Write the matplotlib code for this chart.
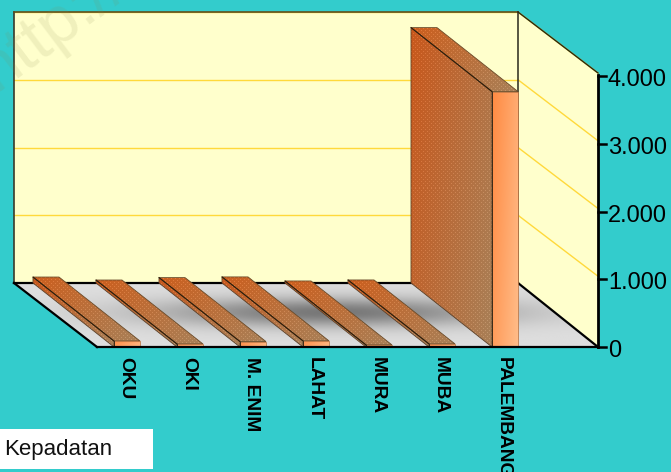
import numpy as np
import matplotlib
matplotlib.use("Agg")
import matplotlib.pyplot as plt
from matplotlib.patches import Polygon
from matplotlib.colors import LinearSegmentedColormap

plt.rcParams['font.family'] = ['Liberation Sans', 'DejaVu Sans']

categories = ["OKU", "OKI", "M. ENIM", "LAHAT", "MURA", "MUBA", "PALEMBANG"]
kepadatan = [88, 44, 80, 90, 30, 45, 3770]
y_ticks = [0, 1000, 2000, 3000, 4000]
y_tick_labels = ["0", "1.000", "2.000", "3.000", "4.000"]
legend_label = "Kepadatan"

# chart box in pixels
x_front = 97
y_front = 347
plot_w = 421
depth_x = 83
depth_y = 64
px_per_unit = 271 / 4000
slot = 63
bar_w = 26
bar_start = 17
bar_dx = 81
bar_dy = 64

bg = "#33CCCC"
wall = "#FFFFCC"
grid_col = "#FFD93B"

fig = plt.figure(figsize=(6.71, 4.72), dpi=100, facecolor=bg)
ax = fig.add_axes([0, 0, 1, 1])
ax.set_xlim(0, 671)
ax.set_ylim(472, 0)
ax.axis("off")


def val_y(v):
    return y_front - v * px_per_unit


def grad_fill(poly, c1, c2, direction="x", dots=False, z=3):
    # gradient image clipped to a polygon, optional dotted texture
    xs = [p[0] for p in poly]
    ys = [p[1] for p in poly]
    x0, x1, y0, y1 = min(xs), max(xs), min(ys), max(ys)
    nx = max(int(x1 - x0), 2)
    ny = max(int(y1 - y0), 2)
    gx, gy = np.meshgrid(np.linspace(0, 1, nx), np.linspace(0, 1, ny))
    t = gx if direction == "x" else 0.65 * gx + 0.35 * gy
    c1 = np.array(matplotlib.colors.to_rgb(c1))
    c2 = np.array(matplotlib.colors.to_rgb(c2))
    img = c1 + (c2 - c1) * t[..., None]
    if dots:
        ix, iy = np.meshgrid(np.arange(nx), np.arange(ny))
        mask = ((ix + 2 * (iy // 2 % 2)) % 4 == 0) & (iy % 2 == 0)
        img = np.clip(img + mask[..., None] * 0.09, 0, 1)
    im = ax.imshow(img, extent=(x0, x1, y1, y0), aspect="auto", zorder=z,
                   interpolation="nearest")
    patch = Polygon(poly, closed=True, transform=ax.transData, fc="none", ec="none")
    ax.add_patch(patch)
    im.set_clip_path(patch)


back_l = x_front - depth_x
back_r = x_front + plot_w
back_top = val_y(4000) - depth_y
back_bot = y_front - depth_y
side_x = back_r + 80

# back wall and side wall
ax.add_patch(Polygon([(back_l, back_top), (back_r, back_top), (back_r, back_bot), (back_l, back_bot)],
                     closed=True, fc=wall, ec="none", zorder=1))
ax.add_patch(Polygon([(back_r, back_top), (side_x, back_top + depth_y - 3), (side_x, y_front), (back_r, back_bot)],
                     closed=True, fc=wall, ec="none", zorder=1))

# watermark, faint
ax.text(-4, 92, "http://", rotation=37, rotation_mode="anchor", fontsize=48, color="#8A8A50",
        alpha=0.13, ha="left", va="baseline", zorder=2.5, clip_on=True)

# floor with shadow
floor = [(back_l, back_bot), (back_r, back_bot), (side_x, y_front), (x_front, y_front)]
fx, fy = np.meshgrid(np.linspace(0, 1, 300), np.linspace(0, 1, 120))
shade = 0.87 - 0.40 * np.exp(-((fx - 0.54) / 0.30) ** 2 - ((fy - 0.46) / 0.23) ** 2)
floor_cmap = LinearSegmentedColormap.from_list("floor", ["#000000", "#FFFFFF"])
im = ax.imshow(shade, cmap=floor_cmap, vmin=0, vmax=1, extent=(back_l, side_x, y_front, back_bot),
               aspect="auto", zorder=1.2)
floor_patch = Polygon(floor, closed=True, transform=ax.transData, fc="none", ec="none")
ax.add_patch(floor_patch)
im.set_clip_path(floor_patch)

# gridlines on the walls
for v in y_ticks[1:]:
    y = val_y(v)
    ax.plot([back_l, back_r], [y - depth_y, y - depth_y], color=grid_col, lw=1.0, zorder=1.5)
    ax.plot([back_r, side_x], [y - depth_y, y - 3], color=grid_col, lw=1.0, zorder=1.5)

# wall outlines
ax.plot([back_l, back_l], [back_top, back_bot], color="#3A3A2A", lw=1.2, zorder=1.6)
ax.plot([back_l, back_r], [back_top, back_top], color="#5C5020", lw=1.2, zorder=1.6)
ax.plot([back_r, back_r], [back_top, back_bot], color="#3A3A2A", lw=1.2, zorder=1.6)
ax.plot([back_r, side_x], [back_top, back_top + depth_y - 3], color="#2A2A10", lw=1.0, zorder=1.6)
ax.plot([back_l, back_r], [back_bot, back_bot], color="black", lw=1.6, zorder=1.6)
ax.plot([back_l, x_front], [back_bot, y_front], color="black", lw=1.6, zorder=1.6)
ax.plot([back_r, side_x], [back_bot, y_front], color="black", lw=1.6, zorder=1.6)

# bars
for i, (name, v) in enumerate(zip(categories, kepadatan)):
    xl = x_front + bar_start + slot * i
    xr = xl + bar_w
    yt = val_y(v)
    z = 3 + i * 0.1
    side = [(xl - bar_dx, yt - bar_dy), (xl, yt), (xl, y_front), (xl - bar_dx, y_front - bar_dy)]
    top = [(xl - bar_dx, yt - bar_dy), (xr - bar_dx, yt - bar_dy), (xr, yt), (xl, yt)]
    front = [(xl, yt), (xr, yt), (xr, y_front), (xl, y_front)]
    grad_fill(side, "#C8581C", "#A88058", direction="xy", dots=True, z=z)
    grad_fill(top, "#CC5F1E", "#A88058", direction="xy", dots=True, z=z)
    grad_fill(front, "#FF8A42", "#FFBC88", direction="xy", z=z)
    ax.add_patch(Polygon(side, closed=True, fc="none", ec="#5A4028", lw=0.6, zorder=z + 0.01))
    ax.add_patch(Polygon(top, closed=True, fc="none", ec="#6A4A28", lw=0.6, zorder=z + 0.01))
    ax.add_patch(Polygon(front, closed=True, fc="none", ec="#C07A48", lw=0.6, zorder=z + 0.01))
    ax.plot([xl - bar_dx, xl], [yt - bar_dy, yt], color="#2A1A08", lw=0.7, zorder=z + 0.02)
    ax.plot([xl, xl], [yt, y_front], color="#3A2A18", lw=0.7, zorder=z + 0.02)
    ax.text((xl + xr) / 2 - 1.5, 357, name, rotation=270, fontsize=13.8, fontweight="bold",
            ha="center", va="top", color="black", zorder=6, clip_on=True)

ax.plot([x_front, side_x], [y_front, y_front], color="black", lw=1.6, zorder=5)

# value axis on the right
ax.plot([side_x, side_x], [val_y(4000) - 1, y_front], color="black", lw=2, zorder=5)
for v, lab in zip(y_ticks, y_tick_labels):
    y = val_y(v)
    ax.plot([side_x, side_x + 8], [y, y], color="black", lw=1.8, zorder=5)
    ax.text(side_x + 10, y + 4, lab, fontsize=17, ha="left", va="center", color="black", zorder=6)

# legend box
ax.add_patch(Polygon([(0, 429), (153, 429), (153, 469), (0, 469)], closed=True, fc="white", ec="none", zorder=6))
ax.text(4, 449, legend_label, fontsize=16, ha="left", va="center", color="#111111", zorder=7)

fig.savefig("out.png", dpi=100, facecolor=bg)
